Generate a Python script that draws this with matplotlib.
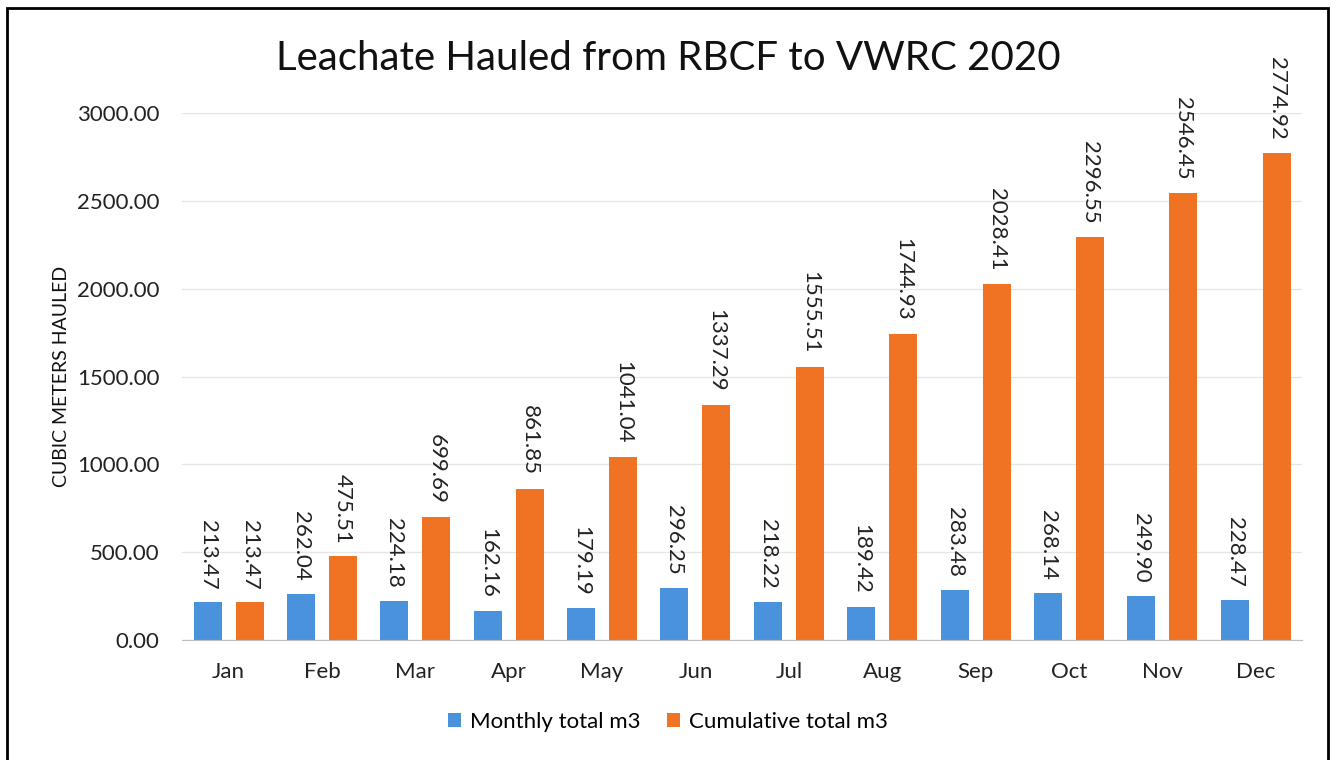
import matplotlib
matplotlib.use('Agg')
import matplotlib.pyplot as plt
import numpy as np
from matplotlib.patches import Rectangle

# Data
months = ['Jan', 'Feb', 'Mar', 'Apr', 'May', 'Jun', 'Jul', 'Aug', 'Sep', 'Oct', 'Nov', 'Dec']
monthly = [213.47, 262.04, 224.18, 162.16, 179.19, 296.25, 218.22, 189.42, 283.48, 268.14, 249.90, 228.47]
cumulative = [213.47, 475.51, 699.69, 861.85, 1041.04, 1337.29, 1555.51, 1744.93, 2028.41, 2296.55, 2546.45, 2774.92]
yticks = [0, 500, 1000, 1500, 2000, 2500, 3000]

plt.rcParams['font.family'] = ['Lato', 'DejaVu Sans']

blue = '#4a93dc'
orange = '#f07323'

fig = plt.figure(figsize=(13.33, 7.6), dpi=100)
ax = fig.add_axes([0.1365, 0.158, 0.8405, 0.693])

x = np.arange(len(months))
off = 0.225
w = 0.30
b1 = ax.bar(x - off, monthly, w, color=blue, label='Monthly total m3')
b2 = ax.bar(x + off, cumulative, w, color=orange, label='Cumulative total m3')

# rotated value labels above each bar
for bars, vals in ((b1, monthly), (b2, cumulative)):
    for rect, v in zip(bars, vals):
        ax.text(rect.get_x() + rect.get_width() / 2, v + 75, f'{v:.2f}',
                rotation=270, ha='center', va='bottom', fontsize=16,
                color='#222222', clip_on=False)

ax.set_xlim(-0.5, len(months) - 0.5)
ax.set_ylim(0, 3000)
ax.set_yticks(yticks)
ax.set_yticklabels([f'{t:.2f}' for t in yticks], fontsize=16, color='#222222')
ax.set_xticks(x)
ax.set_xticklabels(months, fontsize=16, color='#222222')
ax.tick_params(length=0, pad=16)
ax.grid(axis='y', color='#e6e6e6', linewidth=1)
ax.set_axisbelow(True)
for s in ('top', 'right', 'left'):
    ax.spines[s].set_visible(False)
ax.spines['bottom'].set_color('#bfbfbf')

ax.set_ylabel('CUBIC METERS HAULED', fontsize=14, color='#111111', labelpad=5)

fig.text(0.501, 0.923, 'Leachate Hauled from RBCF to VWRC 2020', ha='center', va='center',
         fontsize=29, color='#111111')

fig.legend(handles=[b1, b2], loc='center', bbox_to_anchor=(0.501, 0.05), ncol=2,
           frameon=False, fontsize=16, handlelength=0.6, handleheight=0.6,
           handletextpad=0.4, columnspacing=1.2)

# outer frame
fig.patches.append(Rectangle((0.005, -0.01), 0.991, 1.0, transform=fig.transFigure,
                             fill=False, edgecolor='black', linewidth=2))

plt.savefig('out.png', dpi=100)
plt.close()
